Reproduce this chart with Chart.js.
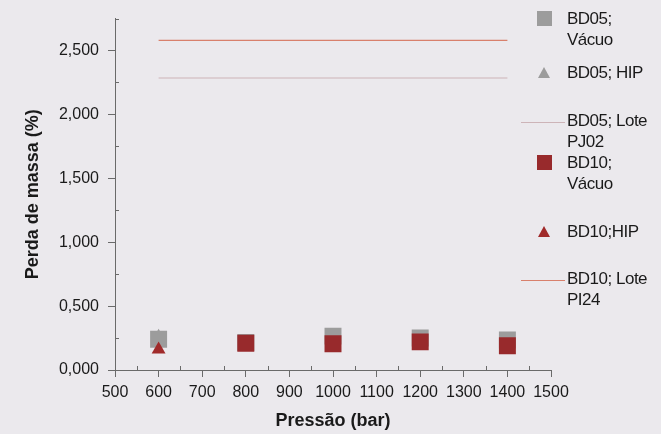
<!DOCTYPE html>
<html>
<head>
<meta charset="utf-8">
<script src="https://cdn.jsdelivr.net/npm/chart.js@4.4.1/dist/chart.umd.min.js"></script>
<style>
  html, body { margin: 0; padding: 0; background: #ebe9ed; }
  #wrap { position: relative; width: 661px; height: 434px; }
  #legend { position: absolute; left: 0; top: 0; width: 661px; height: 434px; pointer-events: none;
            font-family: "Liberation Sans", Arial, sans-serif; font-size: 17px; color: #1a1a1a; }
  .item { position: absolute; left: 567px; line-height: 21px; white-space: nowrap; letter-spacing: -0.5px; }
  .mk { position: absolute; }
</style>
</head>
<body>
<div id="wrap">
  <canvas id="myChart" width="661" height="434"></canvas>
  <div id="legend"></div>
</div>
<script>
// pressure (bar)
const pressures = [600, 800, 1000, 1200, 1400];

// mass loss (%)
const bd05Vacuo = [0.24, 0.215, 0.265, 0.25, 0.235];
const bd10Vacuo = [null, 0.21, 0.205, 0.22, 0.19];
const bd05Hip = [0.26];
const bd10Hip = [0.16];
const hipPressure = [600];

// batch reference lines
const loteRange = [600, 1400];
const bd05Lote = 2.285;
const bd10Lote = 2.58;

const seriesLabels = [
  ["BD05;", "Vácuo"],
  ["BD05; HIP"],
  ["BD05; Lote", "PJ02"],
  ["BD10;", "Vácuo"],
  ["BD10;HIP"],
  ["BD10; Lote", "PI24"]
];

const grayCol = "#9c9c9c";
const redCol = "#982a2c";

function pts(xs, ys) {
  return xs.map((x, i) => ({ x: x, y: ys[i] })).filter(p => p.y !== null);
}

const FONT = "'Liberation Sans', Arial, sans-serif";

// short inside ticks at the minor steps
const minorTicks = {
  id: "minorTicks",
  afterDraw(chart) {
    const c = chart.ctx;
    const xs = chart.scales.x, ys = chart.scales.y;
    c.save();
    c.strokeStyle = "#6a6a6a";
    c.lineWidth = 1;
    c.beginPath();
    xs.ticks.forEach(t => {
      if (t.value % 100 !== 0) {
        const px = Math.round(xs.getPixelForValue(t.value)) + 0.5;
        c.moveTo(px, ys.bottom);
        c.lineTo(px, ys.bottom - 4);
      }
    });
    ys.ticks.forEach(t => {
      if (Math.abs(t.value * 2 - Math.round(t.value * 2)) > 1e-6) {
        const py = Math.round(ys.getPixelForValue(t.value)) + 0.5;
        c.moveTo(xs.left, py);
        c.lineTo(xs.left + 4, py);
      }
    });
    c.stroke();
    c.restore();
  }
};

const ctx = document.getElementById("myChart");

const chart = new Chart(ctx, {
  type: "scatter",
  data: {
    datasets: [
      { label: seriesLabels[0], data: pts(pressures, bd05Vacuo), pointStyle: "rect",
        pointRadius: 12, backgroundColor: grayCol, borderColor: grayCol, borderWidth: 0, order: 2 },
      { label: seriesLabels[1], data: pts(hipPressure, bd05Hip), pointStyle: "triangle",
        pointRadius: 8, backgroundColor: grayCol, borderColor: grayCol, borderWidth: 0, order: 3 },
      { label: seriesLabels[2], data: pts(loteRange, [bd05Lote, bd05Lote]), type: "line",
        showLine: true, pointRadius: 0, borderColor: "#cdb4b8", borderWidth: 1.2, order: 4 },
      { label: seriesLabels[3], data: pts(pressures, bd10Vacuo), pointStyle: "rect",
        pointRadius: 12, backgroundColor: redCol, borderColor: redCol, borderWidth: 0, order: 1 },
      { label: seriesLabels[4], data: pts(hipPressure, bd10Hip), pointStyle: "triangle",
        pointRadius: 8, backgroundColor: "#a02a2a", borderColor: "#a02a2a", borderWidth: 0, order: 0 },
      { label: seriesLabels[5], data: pts(loteRange, [bd10Lote, bd10Lote]), type: "line",
        showLine: true, pointRadius: 0, borderColor: "#d8806c", borderWidth: 1.2, order: 4 }
    ]
  },
  options: {
    responsive: false,
    animation: false,
    layout: { padding: { left: 18, right: 110, top: 16, bottom: 0 } },
    plugins: { legend: { display: false }, tooltip: { enabled: false } },
    scales: {
      x: {
        type: "linear", min: 500, max: 1500,
        afterFit: s => { s.height = 64; },
        ticks: {
          stepSize: 50, autoSkip: false, padding: 6, color: "#1a1a1a",
          maxRotation: 0, minRotation: 0,
          font: { family: FONT, size: 16 },
          callback: v => (v % 100 === 0 ? String(v) : "")
        },
        grid: {
          drawOnChartArea: false, tickLength: 7,
          color: c => (c.tick && c.tick.value % 100 === 0 ? "#6a6a6a" : "rgba(0,0,0,0)")
        },
        border: { color: "#6a6a6a" },
        title: { display: true, text: "Pressão (bar)", color: "#1a1a1a",
                 font: { family: FONT, size: 18, weight: "bold" }, padding: { top: 0, bottom: 2 } }
      },
      y: {
        min: 0, max: 2.75,
        afterFit: s => { s.width = 97; },
        ticks: {
          stepSize: 0.25, autoSkip: false, padding: 9, color: "#1a1a1a",
          font: { family: FONT, size: 16 },
          callback: v => (Math.abs(v * 2 - Math.round(v * 2)) < 1e-6 ? v.toFixed(3).replace(".", ",") : "")
        },
        grid: {
          drawOnChartArea: false, tickLength: 7,
          color: c => (c.tick && Math.abs(c.tick.value * 2 - Math.round(c.tick.value * 2)) < 1e-6 ? "#6a6a6a" : "rgba(0,0,0,0)")
        },
        border: { color: "#6a6a6a" },
        title: { display: true, text: "Perda de massa (%)", color: "#1a1a1a",
                 font: { family: FONT, size: 18, weight: "bold" }, padding: 4 }
      }
    }
  },
  plugins: [minorTicks]
});

// FOR LEGEND (html, to place the entries like the original)
const legendTop = [8, 62, 110, 152, 221, 268];

function renderLegend() {
  const box = document.getElementById("legend");
  box.innerHTML = chart.data.datasets.map((ds, i) => {
    const top = legendTop[i];
    const mid = top + 11;
    let mk = "";
    if (ds.pointStyle === "rect") {
      mk = `<div class="mk" style="left:537px;top:${mid - 8}px;width:15px;height:15px;background:${ds.backgroundColor}"></div>`;
    } else if (ds.pointStyle === "triangle") {
      mk = `<div class="mk" style="left:538px;top:${mid - 6}px;width:0;height:0;border-left:6px solid transparent;border-right:6px solid transparent;border-bottom:11px solid ${ds.backgroundColor}"></div>`;
    } else {
      mk = `<div class="mk" style="left:521px;top:${mid + 1}px;width:44px;height:1px;background:${ds.borderColor}"></div>`;
    }
    return mk + `<div class="item" style="top:${top}px">${ds.label.join("<br>")}</div>`;
  }).join("");
}

renderLegend();
</script>
</body>
</html>
